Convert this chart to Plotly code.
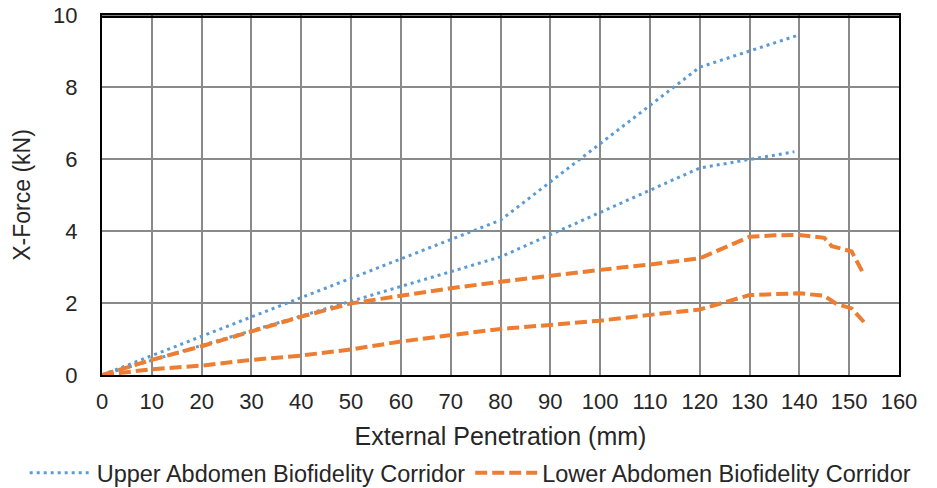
import plotly.graph_objects as go

# Upper abdomen corridor (two bounds)
upper_hi_x = [0, 80, 120, 140]
upper_hi_y = [0, 4.3, 8.55, 9.45]
upper_lo_x = [0, 80, 120, 139]
upper_lo_y = [0, 3.28, 5.75, 6.2]

# Lower abdomen corridor (two bounds)
lower_hi_x = [0, 10, 20, 30, 40, 50, 60, 70, 80, 90, 100, 110, 120, 130, 135, 140, 145, 146.5, 150.5, 153]
lower_hi_y = [0, 0.42, 0.8, 1.22, 1.62, 1.99, 2.2, 2.41, 2.59, 2.76, 2.92, 3.07, 3.24, 3.84, 3.88, 3.89, 3.81, 3.58, 3.43, 2.78]
lower_lo_x = [0, 10, 20, 30, 40, 50, 60, 70, 80, 90, 100, 110, 120, 130, 140, 145, 147.5, 150.5, 153.3]
lower_lo_y = [0, 0.16, 0.26, 0.42, 0.54, 0.71, 0.93, 1.11, 1.28, 1.39, 1.51, 1.67, 1.82, 2.22, 2.27, 2.2, 1.97, 1.85, 1.42]

x_ticks = list(range(0, 161, 10))
y_ticks = [0, 2, 4, 6, 8, 10]

FONT = "Liberation Sans, Arial, sans-serif"
TXT = "#262626"

fig = go.Figure()
fig.add_trace(go.Scatter(
    x=upper_hi_x + [None] + upper_lo_x,
    y=upper_hi_y + [None] + upper_lo_y,
    mode="lines", name="Upper Abdomen Biofidelity Corridor",
    line=dict(color="#5B9BD5", width=3, dash="3px,4px"),
    connectgaps=False,
))
fig.add_trace(go.Scatter(
    x=lower_hi_x + [None] + lower_lo_x,
    y=lower_hi_y + [None] + lower_lo_y,
    mode="lines", name="Lower Abdomen Biofidelity Corridor",
    line=dict(color="#ED7D31", width=4, dash="12px,5px"),
    connectgaps=False,
))

fig.update_layout(
    width=937, height=488,
    margin=dict(l=102, r=38, t=15, b=113, autoexpand=False),
    paper_bgcolor="white", plot_bgcolor="white",
    font=dict(family=FONT, color=TXT, size=22),
    showlegend=True,
    legend=dict(orientation="h", x=-0.097, xanchor="left", y=-0.272, yanchor="middle",
                font=dict(size=23.5, color=TXT), itemwidth=62,
                bgcolor="rgba(0,0,0,0)", tracegroupgap=0),
    xaxis=dict(range=[0, 160], tickvals=x_ticks, ticktext=[str(v) for v in x_ticks],
               showgrid=True, gridcolor="#8a8a8a", gridwidth=2,
               showline=True, linecolor="black", linewidth=2, mirror=True,
               zeroline=False, ticks="", ticklabelstandoff=6, automargin=False,
               tickfont=dict(size=22),
               title=dict(text="External Penetration (mm)", font=dict(size=25), standoff=14)),
    yaxis=dict(range=[0, 10], tickvals=y_ticks, ticktext=[str(v) for v in y_ticks],
               showgrid=True, gridcolor="#8a8a8a", gridwidth=2,
               showline=True, linecolor="black", linewidth=2, mirror=True,
               zeroline=False, ticks="", ticklabelstandoff=18, automargin=False,
               ticklabeloverflow="allow",
               tickfont=dict(size=22),
               title=dict(text="X-Force (kN)", font=dict(size=23), standoff=16)),
    shapes=[dict(type="line", xref="paper", yref="paper", x0=0, x1=1, y0=0.995, y1=0.995,
                 line=dict(color="black", width=2.5), layer="above")],
)

fig.write_html("out.html", config={"displayModeBar": False},
               post_script="document.body.style.margin='0';")
